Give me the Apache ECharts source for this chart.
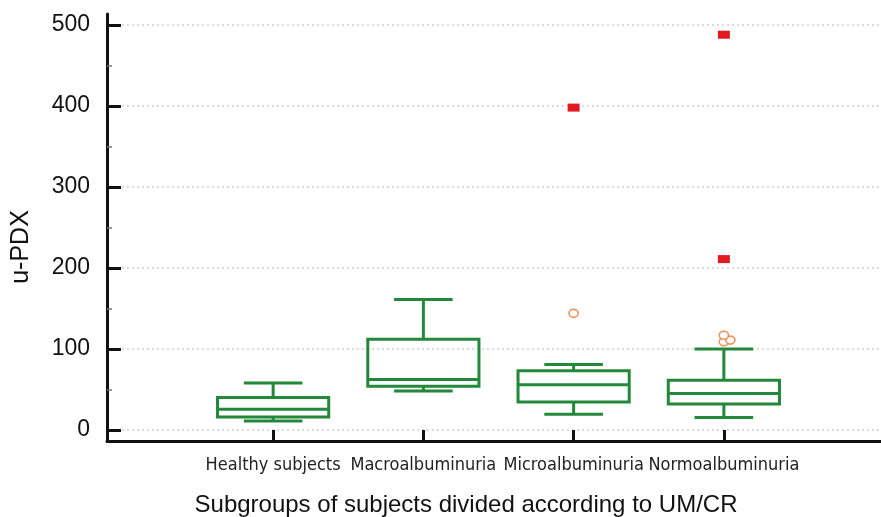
<!DOCTYPE html>
<html>
<head>
<meta charset="utf-8">
<style>
  html, body { margin: 0; padding: 0; background: #ffffff; }
  #chart { width: 881px; height: 517px; }
</style>
<script src="https://cdn.jsdelivr.net/npm/echarts@6/dist/echarts.min.js"></script>
</head>
<body>
<div id="chart"></div>
<script>
// Groups along the x axis
const categories = ['Healthy subjects', 'Macroalbuminuria', 'Microalbuminuria', 'Normoalbuminuria'];

// Five-number summaries per group: [lower whisker, Q1, median, Q3, upper whisker]
const boxStats = [
  [11, 16, 25.5, 40, 58],
  [48, 54, 62.5, 112, 161],
  [19.5, 34.5, 56, 73, 81],
  [15.5, 32, 45, 61.5, 100]
];

// Outside values (open circles) per group
const outsideValues = [[], [], [144], [109, 111, 117]];

// Far-out values (filled squares) per group
const farOutValues = [[], [], [398], [488, 211]];

// Y axis tick settings
const yMin = 0;
const yMax = 500;
const yStep = 100;

const GREEN = '#23883a';
const INK = '#111111';

const boxData = boxStats.map((s, i) => [i].concat(s));
const circleData = [];
outsideValues.forEach((vals, i) => vals.forEach(v => circleData.push([i, v])));
const squareData = [];
farOutValues.forEach((vals, i) => vals.forEach(v => squareData.push([i, v])));

function renderBox(params, api) {
  const band = api.size([1, 0])[0];
  const x = api.coord([api.value(0), 0])[0];
  const yLo = api.coord([api.value(0), api.value(1)])[1];
  const yQ1 = api.coord([api.value(0), api.value(2)])[1];
  const yMed = api.coord([api.value(0), api.value(3)])[1];
  const yQ3 = api.coord([api.value(0), api.value(4)])[1];
  const yHi = api.coord([api.value(0), api.value(5)])[1];
  const halfBox = band * 0.37;
  const halfCap = band * 0.195;
  const style = { stroke: GREEN, lineWidth: 3, fill: null };
  return {
    type: 'group',
    children: [
      { type: 'line', shape: { x1: x, y1: yQ3, x2: x, y2: yHi }, style },
      { type: 'line', shape: { x1: x, y1: yQ1, x2: x, y2: yLo }, style },
      { type: 'line', shape: { x1: x - halfCap, y1: yHi, x2: x + halfCap, y2: yHi }, style },
      { type: 'line', shape: { x1: x - halfCap, y1: yLo, x2: x + halfCap, y2: yLo }, style },
      { type: 'rect', shape: { x: x - halfBox, y: yQ3, width: halfBox * 2, height: yQ1 - yQ3 }, style },
      { type: 'line', shape: { x1: x - halfBox, y1: yMed, x2: x + halfBox, y2: yMed }, style }
    ]
  };
}

// Simple dodge so that close outside values sit side by side
let placed = [];
function renderCircle(params, api) {
  if (params.dataIndex === 0) placed = [];
  const cat = api.value(0);
  const p = api.coord([cat, api.value(1)]);
  const step = 6.5, minDist = 6;
  const tries = [0, 1, -1, 2, -2, 3, -3];
  let dx = 0;
  for (const t of tries) {
    const cx = p[0] + t * step;
    const ok = placed.every(q => q.cat !== cat || Math.hypot(q.x - cx, q.y - p[1]) >= minDist);
    if (ok) { dx = t * step; break; }
  }
  placed.push({ cat: cat, x: p[0] + dx, y: p[1] });
  return {
    type: 'ellipse',
    shape: { cx: p[0] + dx, cy: p[1], rx: 4.6, ry: 4 },
    style: { stroke: '#ee9160', lineWidth: 1.6, fill: '#ffffff' }
  };
}

const chart = echarts.init(document.getElementById('chart'), null, { renderer: 'canvas' });

chart.setOption({
  backgroundColor: '#ffffff',
  animation: false,
  textStyle: { fontFamily: 'Liberation Sans, Arial, sans-serif' },
  grid: [
    // y scale, ticks and guide lines
    { left: 107, right: 0, top: 25, bottom: 87 },
    // boxes and categories
    { left: 198, right: 82, top: 25, bottom: 87 },
    // frame lines
    { left: 107, right: 0, top: 14, bottom: 76 }
  ],
  xAxis: [
    { gridIndex: 0, type: 'value', min: 0, max: 1, show: false },
    {
      gridIndex: 1, type: 'category', data: categories,
      axisLine: { show: false },
      axisTick: { show: true, interval: 0, alignWithLabel: true, length: 11, lineStyle: { color: INK, width: 3 } },
      axisLabel: {
        interval: 0, margin: 26, fontSize: 18, color: '#222',
        fontFamily: 'Liberation Sans Narrow, DejaVu Sans Condensed, Arial Narrow, sans-serif'
      },
      splitLine: { show: false }
    },
    {
      gridIndex: 2, type: 'value', min: 0, max: 1,
      axisLine: { show: true, onZero: false, lineStyle: { color: INK, width: 3 } },
      axisTick: { show: false }, axisLabel: { show: false }, splitLine: { show: false }
    }
  ],
  yAxis: [
    {
      gridIndex: 0, type: 'value', min: yMin, max: yMax, interval: yStep,
      axisLine: { show: false },
      axisTick: { show: true, inside: true, length: 14, lineStyle: { color: INK, width: 3 } },
      minorTick: { show: true, splitNumber: 2, length: 5, lineStyle: { color: '#777', width: 1.5 } },
      axisLabel: { fontSize: 23, color: '#111', margin: 17 },
      splitLine: { show: true, lineStyle: { color: '#d0d0d0', type: [2, 3], width: 1.5 } }
    },
    { gridIndex: 1, type: 'value', min: yMin, max: yMax, show: false },
    {
      gridIndex: 2, type: 'value', min: 0, max: 1,
      axisLine: { show: true, onZero: false, lineStyle: { color: INK, width: 3 } },
      axisTick: { show: false }, axisLabel: { show: false }, splitLine: { show: false }
    }
  ],
  graphic: [
    {
      type: 'text', x: 21, y: 247, rotation: Math.PI / 2,
      style: { text: 'u-PDX', fontSize: 25, fill: '#111', align: 'center', verticalAlign: 'middle',
               fontFamily: 'Liberation Sans, Arial, sans-serif' }
    },
    {
      type: 'text', x: 466, y: 505,
      style: { text: 'Subgroups of subjects divided according to UM/CR', fontSize: 24, fill: '#111',
               align: 'center', verticalAlign: 'middle', fontFamily: 'Liberation Sans, Arial, sans-serif' }
    }
  ],
  series: [
    {
      type: 'custom', xAxisIndex: 1, yAxisIndex: 1,
      data: boxData, renderItem: renderBox,
      encode: { x: 0, y: [1, 2, 3, 4, 5] }
    },
    {
      type: 'custom', xAxisIndex: 1, yAxisIndex: 1,
      data: circleData, renderItem: renderCircle,
      encode: { x: 0, y: 1 }
    },
    {
      type: 'scatter', xAxisIndex: 1, yAxisIndex: 1,
      data: squareData, symbol: 'rect', symbolSize: [12, 8],
      itemStyle: { color: '#e3191f', opacity: 1 }
    }
  ]
});
</script>
</body>
</html>
